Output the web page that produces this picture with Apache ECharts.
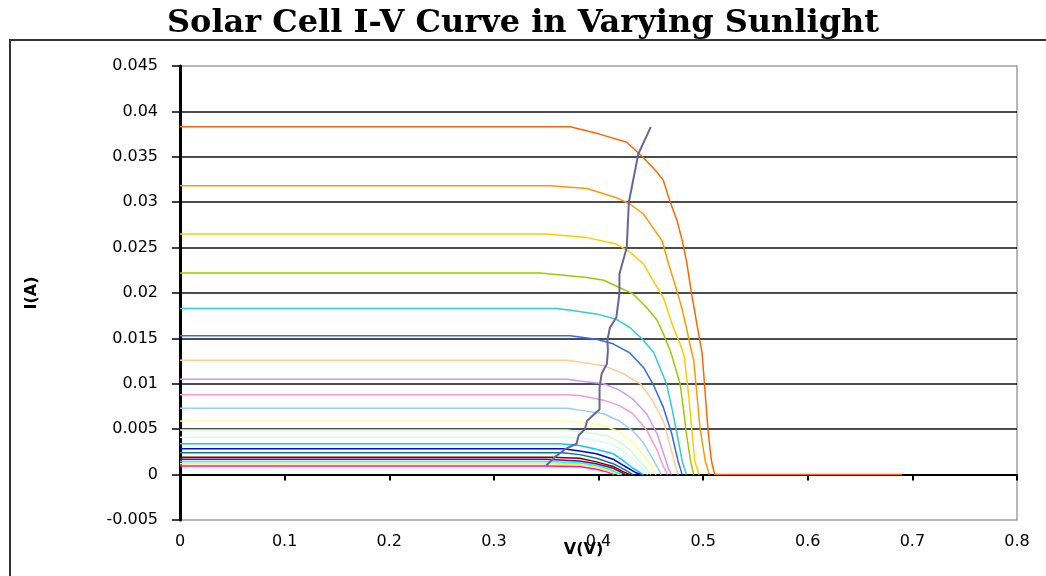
<!DOCTYPE html>
<html>
<head>
<meta charset="utf-8">
<title>Solar Cell I-V Curve</title>
<script src="https://cdn.jsdelivr.net/npm/echarts@6/dist/echarts.min.js"></script>
<style>
  html, body { margin: 0; padding: 0; background: #fff; }
  #chart { width: 1046px; height: 576px; }
</style>
</head>
<body>
<div id="chart"></div>
<script>
// I-V curves, [V, I] pairs, lowest light level first
const ivMagenta = [[0, 0.00096], [0.35, 0.00096], [0.382, 0.0009], [0.398, 0.0006], [0.408, 0.0003], [0.415, 0]]
const ivYellow = [[0, 0.0012], [0.35, 0.0012], [0.382, 0.0011], [0.398, 0.0008], [0.41, 0.0004], [0.42, 0]]
const ivCyan = [[0, 0.00143], [0.35, 0.00143], [0.382, 0.0013], [0.398, 0.001], [0.41, 0.0006], [0.422, 0]]
const ivPurple = [[0, 0.00169], [0.35, 0.00168], [0.382, 0.0015], [0.398, 0.0012], [0.414, 0.0007], [0.426, 0]]
const ivDarkRed = [[0, 0.0019], [0.355, 0.0019], [0.382, 0.0018], [0.398, 0.0014], [0.414, 0.0009], [0.424, 0.0003], [0.43, 0]]
const ivTeal = [[0, 0.0024], [0.366, 0.0024], [0.382, 0.0022], [0.398, 0.0018], [0.414, 0.0012], [0.424, 0.0006], [0.433, 0]]
const ivBlue = [[0, 0.00286], [0.366, 0.00285], [0.382, 0.0026], [0.398, 0.0023], [0.414, 0.0017], [0.424, 0.001], [0.436, 0.0002], [0.442, 0]]
const ivSky = [[0, 0.0034], [0.363, 0.0034], [0.382, 0.0032], [0.398, 0.0028], [0.414, 0.0023], [0.424, 0.0015], [0.433, 0.0007], [0.443, 0]]
const ivLightCyan = [[0, 0.0041], [0.37, 0.0041], [0.385, 0.004], [0.408, 0.0035], [0.42, 0.0029], [0.43, 0.002], [0.438, 0.0011], [0.447, 0]]
const ivLightGreen = [[0, 0.0049], [0.37, 0.0049], [0.385, 0.0047], [0.408, 0.0043], [0.42, 0.0036], [0.43, 0.0027], [0.44, 0.0014], [0.45, 0]]
const ivLightYellow = [[0, 0.0059], [0.37, 0.0059], [0.382, 0.0058], [0.405, 0.0054], [0.42, 0.0047], [0.433, 0.0035], [0.443, 0.0021], [0.45, 0.001], [0.455, 0]]
const ivLightBlue = [[0, 0.0073], [0.37, 0.0073], [0.382, 0.0071], [0.405, 0.0067], [0.42, 0.0059], [0.433, 0.0048], [0.443, 0.0035], [0.452, 0.0017], [0.46, 0]]
const ivPink = [[0, 0.0088], [0.37, 0.0088], [0.382, 0.0087], [0.405, 0.0082], [0.42, 0.0076], [0.433, 0.0067], [0.446, 0.0049], [0.456, 0.0027], [0.462, 0.0009], [0.466, 0]]
const ivLavender = [[0, 0.0105], [0.37, 0.0105], [0.382, 0.0103], [0.405, 0.01], [0.42, 0.0093], [0.433, 0.0083], [0.446, 0.0067], [0.456, 0.0045], [0.462, 0.0024], [0.467, 0.0006], [0.47, 0]]
const ivPeach = [[0, 0.0126], [0.37, 0.0126], [0.382, 0.0124], [0.405, 0.012], [0.424, 0.0111], [0.44, 0.01], [0.452, 0.0081], [0.462, 0.0059], [0.468, 0.0034], [0.473, 0.0012], [0.476, 0]]
const ivBlue2 = [[0, 0.0153], [0.373, 0.0153], [0.398, 0.0149], [0.414, 0.0144], [0.43, 0.0134], [0.443, 0.0118], [0.452, 0.01], [0.462, 0.0074], [0.47, 0.0045], [0.476, 0.0015], [0.48, 0]]
const ivTeal2 = [[0, 0.0183], [0.36, 0.0183], [0.373, 0.0181], [0.398, 0.0177], [0.417, 0.0171], [0.43, 0.0162], [0.443, 0.0148], [0.453, 0.0134], [0.465, 0.01], [0.47, 0.0074], [0.475, 0.0045], [0.48, 0.0015], [0.484, 0]]
const ivGreen = [[0, 0.0222], [0.344, 0.0222], [0.389, 0.0217], [0.405, 0.0214], [0.42, 0.0206], [0.433, 0.0199], [0.446, 0.0184], [0.456, 0.017], [0.462, 0.0155], [0.469, 0.0135], [0.478, 0.01], [0.481, 0.0074], [0.484, 0.0045], [0.488, 0.0015], [0.491, 0]]
const ivGold = [[0, 0.0265], [0.35, 0.0265], [0.389, 0.0261], [0.417, 0.0254], [0.43, 0.0245], [0.443, 0.0232], [0.452, 0.0214], [0.462, 0.0195], [0.4715, 0.0162], [0.478, 0.0144], [0.482, 0.013], [0.486, 0.0089], [0.489, 0.0052], [0.492, 0.0015], [0.496, 0]]
const ivOrange2 = [[0, 0.0318], [0.354, 0.0318], [0.389, 0.0315], [0.417, 0.0305], [0.43, 0.0298], [0.443, 0.0287], [0.452, 0.0272], [0.461, 0.0257], [0.467, 0.0232], [0.473, 0.021], [0.4795, 0.0184], [0.484, 0.0162], [0.488, 0.014], [0.491, 0.0126], [0.494, 0.0089], [0.497, 0.0052], [0.502, 0.0015], [0.506, 0]]
const ivOrange = [[0, 0.0383], [0.373, 0.0383], [0.401, 0.0375], [0.427, 0.0366], [0.443, 0.0349], [0.456, 0.0333], [0.462, 0.0324], [0.468, 0.0302], [0.475, 0.028], [0.48, 0.0258], [0.484, 0.0236], [0.489, 0.0199], [0.494, 0.0166], [0.499, 0.0134], [0.502, 0.0089], [0.505, 0.0045], [0.508, 0.0015], [0.511, 0], [0.69, 0]]

// max power points, bottom to top
const maxPower = [[0.35, 0.001], [0.358, 0.0019], [0.368, 0.0028], [0.379, 0.0034], [0.381, 0.0043], [0.387, 0.005], [0.389, 0.0059], [0.401, 0.0072], [0.401, 0.0096], [0.403, 0.0111], [0.408, 0.0122], [0.409, 0.0137], [0.4085, 0.0148], [0.411, 0.0162], [0.417, 0.0173], [0.42, 0.0199], [0.42, 0.0221], [0.427, 0.025], [0.429, 0.03], [0.438, 0.0353], [0.45, 0.0383]]

const curves = [ivMagenta, ivYellow, ivCyan, ivPurple, ivDarkRed, ivTeal, ivBlue, ivSky, ivLightCyan, ivLightGreen,
  ivLightYellow, ivLightBlue, ivPink, ivLavender, ivPeach, ivBlue2, ivTeal2, ivGreen, ivGold, ivOrange2, ivOrange]
const curveColors = ['#ff00ff', '#ffff00', '#00ffff', '#800080', '#800000', '#008080', '#0000ff', '#00ccff', '#ccffff', '#ccffcc',
  '#ffff99', '#99ccff', '#ff99cc', '#cc99ff', '#ffcc99', '#3366ff', '#33cccc', '#99cc00', '#ffcc00', '#ff9900', '#ff6600']

const chart = echarts.init(document.getElementById('chart'))

const series = curves.map((d, i) => ({
  type: 'line',
  data: d,
  showSymbol: false,
  lineStyle: { color: curveColors[i], width: 1.5 },
  silent: true
}))
series.push({
  type: 'line',
  data: maxPower,
  showSymbol: false,
  lineStyle: { color: '#666699', width: 2 },
  silent: true
})

const labelFont = { color: '#000', fontFamily: 'DejaVu Sans', fontSize: 16 }

chart.setOption({
  animation: false,
  backgroundColor: '#fff',
  title: {
    text: 'Solar Cell I-V Curve in Varying Sunlight',
    left: 'center',
    top: 3,
    textStyle: { fontFamily: 'DejaVu Serif', fontWeight: 'bold', fontSize: 32, color: '#000' }
  },
  graphic: [{
    type: 'rect',
    shape: { x: 10, y: 40, width: 1100, height: 600 },
    style: { fill: 'none', stroke: '#333', lineWidth: 2 },
    silent: true
  }],
  grid: {
    left: 180, right: 29, top: 66, bottom: 56,
    outerBoundsMode: 'none',
    show: true,
    backgroundColor: '#fff',
    borderColor: '#a0a0a0',
    borderWidth: 1.5
  },
  xAxis: {
    type: 'value',
    min: 0, max: 0.8, interval: 0.1,
    name: 'V(V)',
    nameLocation: 'middle',
    nameGap: 22,
    nameMoveOverlap: false,
    nameTextStyle: { fontFamily: 'DejaVu Sans', fontWeight: 'bold', fontSize: 16, color: '#000', padding: [0, 30, 0, 0] },
    axisLine: { onZero: true, lineStyle: { color: '#000', width: 2 } },
    axisTick: { show: true, length: 6, lineStyle: { color: '#000', width: 2 } },
    axisLabel: { ...labelFont, margin: 14 },
    splitLine: { show: false }
  },
  yAxis: {
    type: 'value',
    min: -0.005, max: 0.045, interval: 0.005,
    name: 'I(A)',
    nameLocation: 'middle',
    nameGap: 140,
    nameRotate: 90,
    nameTextStyle: { fontFamily: 'DejaVu Sans', fontWeight: 'bold', fontSize: 16, color: '#000' },
    axisLine: { show: true, onZero: false, lineStyle: { color: '#000', width: 3 } },
    axisTick: { show: true, length: 8, lineStyle: { color: '#000', width: 1.5 } },
    axisLabel: { ...labelFont, margin: 22 },
    splitLine: { show: true, showMinLine: false, showMaxLine: false, lineStyle: { color: '#111', width: 1.5 } }
  },
  series: series
})
</script>
</body>
</html>
